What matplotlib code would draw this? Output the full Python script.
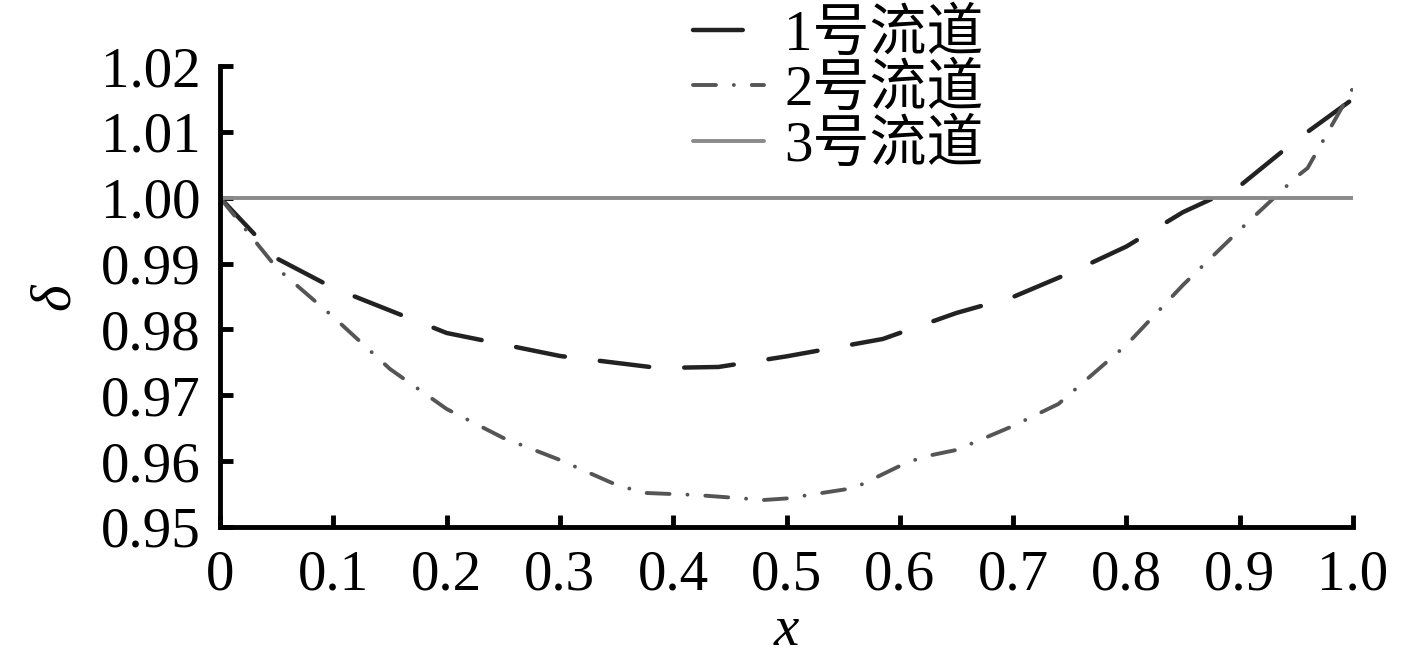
import matplotlib
matplotlib.use('Agg')
import matplotlib.pyplot as plt
import numpy as np

# flow channel 1 (dashed)
x1 = [0.0, 0.051, 0.1, 0.2, 0.3, 0.387, 0.44, 0.5, 0.585, 0.65, 0.7, 0.75, 0.8, 0.85, 0.9, 0.95, 1.0]
y1 = [1.0, 0.9907, 0.98629, 0.97946, 0.97597, 0.97414, 0.9743, 0.97591, 0.97855, 0.9825,
      0.98493, 0.98857, 0.99259, 0.99781, 1.00178, 1.00876, 1.0150]
# flow channel 2 (dash-dot)
x2 = [0.0, 0.05, 0.1, 0.15, 0.2, 0.25, 0.3, 0.35, 0.375, 0.42, 0.48, 0.5, 0.56, 0.6, 0.62,
      0.65, 0.7, 0.74, 0.8, 0.85, 0.9, 0.95, 0.96, 0.98, 1.0]
y2 = [1.0, 0.98933, 0.98189, 0.97399, 0.96792, 0.96352, 0.96018, 0.95638, 0.95517, 0.95486,
      0.95410, 0.95433, 0.95593, 0.95927, 0.96063, 0.96170, 0.96534, 0.96868, 0.97764,
      0.98675, 0.99510, 1.00315, 1.00451, 1.01059, 1.01666]
# flow channel 3 (solid)
x3 = [0.0, 1.0]
y3 = [1.0, 1.0]

labels = ['1号流道', '2号流道', '3号流道']
xticks = [0, 0.1, 0.2, 0.3, 0.4, 0.5, 0.6, 0.7, 0.8, 0.9, 1.0]
xticklabels = ['0', '0.1', '0.2', '0.3', '0.4', '0.5', '0.6', '0.7', '0.8', '0.9', '1.0']
yticks = [0.95, 0.96, 0.97, 0.98, 0.99, 1.00, 1.01, 1.02]

serif = ['Liberation Serif', 'Noto Sans CJK SC', 'DejaVu Sans']
plt.rcParams['font.family'] = serif
plt.rcParams['font.size'] = 41

fig = plt.figure(figsize=(14.17, 6.57), dpi=100)
ax = fig.add_axes([0.1553, 0.1979, 0.7995, 0.7016])

ax.plot(x1, y1, color='#222222', lw=3.2, dashes=(11.2, 7.9),
        dash_capstyle='round', solid_capstyle='round', label=labels[0])
ax.plot(x2, y2, color='#555555', lw=2.8, dashes=(5.9, 4.6, 0.01, 4.6),
        dash_capstyle='round', label=labels[1])
ax.plot(x3, y3, color='#8a8a8a', lw=2.8, solid_capstyle='round', label=labels[2])

ax.set_xlim(0, 1.0)
ax.set_ylim(0.95, 1.02)
ax.set_xticks(xticks)
ax.set_xticklabels(xticklabels)
ax.set_yticks(yticks)
ax.set_yticklabels(['%.2f' % v for v in yticks])

for s in ['top', 'right']:
    ax.spines[s].set_visible(False)
for s in ['left', 'bottom']:
    ax.spines[s].set_linewidth(3.5)
ax.tick_params(axis='both', direction='in', length=9, width=3.5, labelsize=41)
ax.tick_params(axis='x', pad=16)
ax.tick_params(axis='y', pad=14)

ax.set_xlabel('x', fontstyle='italic', labelpad=3)
ax.set_ylabel('δ', fontstyle='italic', labelpad=14)

leg = fig.legend(loc='upper left', bbox_to_anchor=(0.469, 1.03), frameon=False,
                 handlelength=1.25, handletextpad=0.35, labelspacing=0.03,
                 borderpad=0.0, fontsize=41)

fig.savefig('out.png', dpi=100)
